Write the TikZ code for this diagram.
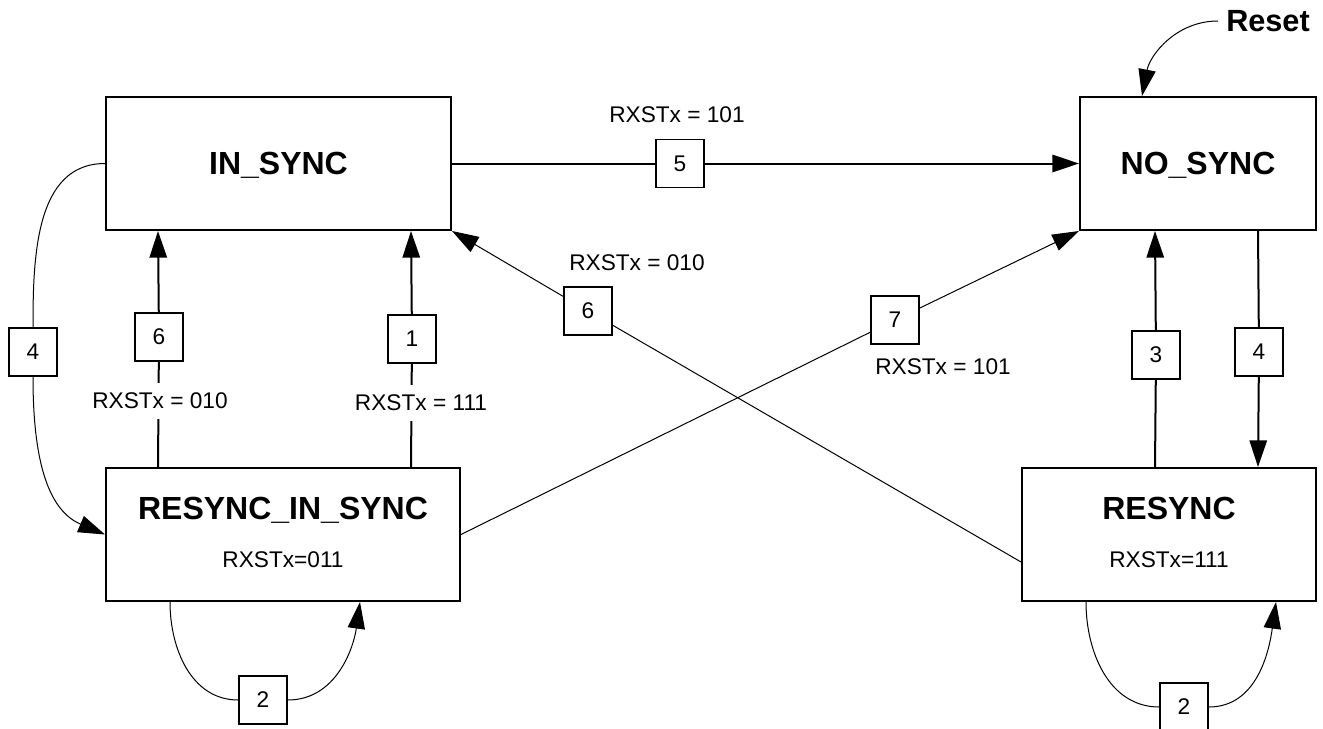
\documentclass[tikz,border=0pt]{standalone}
\usepackage{fontspec}
\setmainfont{Liberation Sans}
\usetikzlibrary{arrows.meta,calc}

\begin{document}
\begin{tikzpicture}[x=0.75pt,y=-0.75pt,
  state/.style={draw,rectangle,line width=1.5pt,inner sep=0pt,minimum height=99.75pt,text depth=0pt},
  stname/.style={font=\fontsize{24}{28}\selectfont\bfseries,inner sep=0pt},
  stout/.style={font=\fontsize{17}{20}\selectfont,inner sep=0pt},
  numbox/.style={draw,rectangle,line width=1.2pt,fill=white,minimum size=36pt,inner sep=0pt,font=\fontsize{17}{20}\selectfont},
  cond/.style={fill=white,inner xsep=2pt,inner ysep=7.5pt,font=\fontsize{17}{20}\selectfont},
  tip/.style={-{Triangle[length=20pt,width=13pt]}},
  thickline/.style={line width=1.5pt},
  thinline/.style={line width=0.75pt}]

  \useasboundingbox (0,0) rectangle (1323,728);

  % states
  \node[state,stname,minimum width=258.75pt] (insync) at (278.5,163.5) {IN\_SYNC};
  \node[state,stname,minimum width=177pt] (nosync) at (1198,163.5) {NO\_SYNC};
  \node[state,minimum width=265.5pt] (resyncin) at (283,534.5) {};
  \node[state,minimum width=220.5pt] (resync) at (1169,534.5) {};
  \node[stname,anchor=base] (resyncinname) at (283,519.5) {RESYNC\_IN\_SYNC};
  \node[stout,anchor=base] (resyncinout) at (283,567.5) {RXSTx=011};
  \node[stname,anchor=base] (resyncname) at (1169,519.5) {RESYNC};
  \node[stout,anchor=base] (resyncout) at (1169,567.5) {RXSTx=111};

  % transition numbers
  \node[numbox] (t5) at (680,163.5) {5};
  \node[numbox] (t6d) at (588,311) {6};
  \node[numbox] (t7) at (895,320) {7};
  \node[numbox] (t6) at (159,337) {6};
  \node[numbox] (t1) at (412,339) {1};
  \node[numbox] (t4a) at (33,352) {4};
  \node[numbox] (t3) at (1156,355) {3};
  \node[numbox] (t4b) at (1259,352) {4};
  \node[numbox] (t2a) at (263,700) {2};
  \node[numbox] (t2b) at (1184,707) {2};

  \coordinate (r6) at ($(resyncin.north west)+(53,0)$);
  \coordinate (r1) at ($(resyncin.north west)+(306,0)$);
  \coordinate (r3) at ($(resync.north west)+(134,0)$);
  \coordinate (n4) at ($(nosync.south west)+(179,0)$);

  \draw[thickline,tip] (insync.east) -- (t5) -- (nosync.west);
  \draw[thinline,tip] ($(resync.west)+(0,27.5)$) -- (t6d) -- (insync.south east);
  \draw[thinline,tip] (resyncin.east) -- (t7) -- (nosync.south west);
  \draw[thickline,tip] (r6) -- (t6) -- (r6 |- insync.south);
  \draw[thickline,tip] (r1) -- (t1) -- (r1 |- insync.south);
  \draw[thickline,tip] (r3) -- (t3) -- (r3 |- nosync.south);
  \draw[thickline,tip] (n4) -- (t4b) -- (n4 |- resync.north);

  \draw[thinline] (insync.west) to[out=180,in=90] (t4a.north);
  \draw[thinline,tip] (t4a.south) to[out=-90,in=157] (resyncin.west);

  \draw[thinline] ($(resyncin.south west)+(65,0)$) to[out=-90,in=180] (t2a.west);
  \draw[thinline,tip] (t2a.east) to[out=0,in=-98] ($(resyncin.south west)+(255,0)$);
  \draw[thinline] ($(resync.south west)+(65,0)$) to[out=-90,in=180] (t2b.west);
  \draw[thinline,tip] (t2b.east) to[out=0,in=-98] ($(resync.south west)+(255,0)$);

  \node[font=\fontsize{23}{27}\selectfont\bfseries,inner sep=6pt] (reset) at (1268,21) {Reset};
  \draw[thinline,tip] (reset.west) to[out=180,in=79] ($(nosync.north west)+(63,0)$);

  % conditions
  \node[cond] (c5) at (677,115) {RXSTx = 101};
  \node[cond] (c6d) at (637,263) {RXSTx = 010};
  \node[cond] (c7) at (943,367) {RXSTx = 101};
  \node[cond] (c6) at (160,401) {RXSTx = 010};
  \node[cond] (c1) at (421,403) {RXSTx = 111};

\end{tikzpicture}
\end{document}
